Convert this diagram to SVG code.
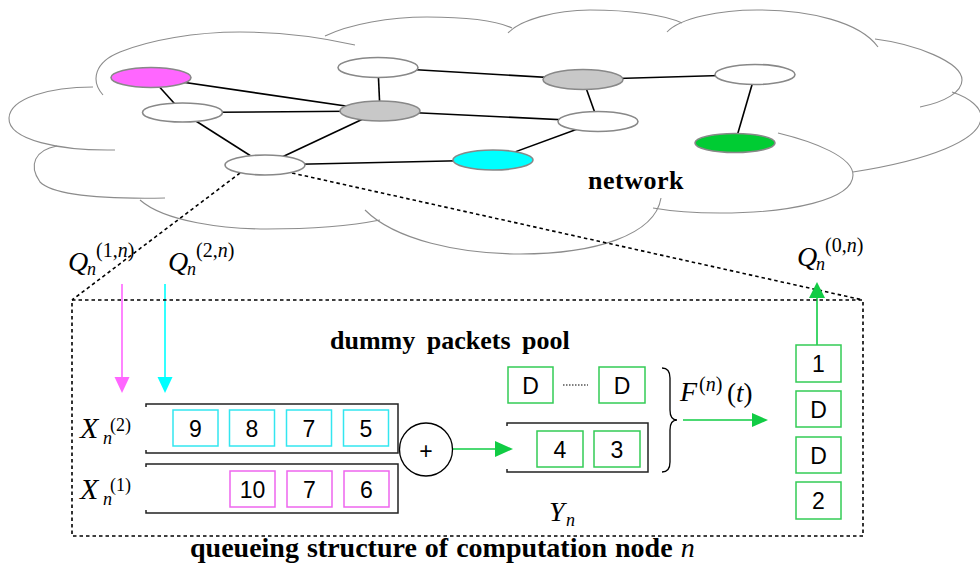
<svg xmlns="http://www.w3.org/2000/svg" width="980" height="575" viewBox="0 0 980 575">
<style>
.cloud{fill:none;stroke:#8c8c8c;stroke-width:1.1}
.nd{stroke:#888;stroke-width:1.6}
.edge{stroke:#000;stroke-width:1.6;fill:none}
.dot{stroke:#000;stroke-width:1.6;fill:none;stroke-dasharray:3.5 3}
.q{fill:none;stroke:#222;stroke-width:1.5}
.bc{fill:#fff;stroke:#33e6f0;stroke-width:1.5}
.bm{fill:#fff;stroke:#ee66ee;stroke-width:1.5}
.bg{fill:#fff;stroke:#33cc55;stroke-width:1.5}
.num{font-family:"Liberation Sans",Arial,sans-serif;font-size:23px;fill:#000;text-anchor:middle}
.bold{font-family:"Liberation Serif","Times New Roman",serif;font-weight:bold;fill:#000}
.mi{font-family:"Liberation Serif","Times New Roman",serif;font-style:italic;fill:#000}
.mr{font-family:"Liberation Serif","Times New Roman",serif;fill:#000}
</style>
<rect width="980" height="575" fill="#fff"/>
<g id="cloud">
<path class="cloud" d="M103,95 C90,80 95,62 120,52 C150,40 195,32 240,32 C280,32 320,37 355,45"/>
<path class="cloud" d="M325,36 C350,24 390,17 427,17 C465,17 495,20 512,28"/>
<path class="cloud" d="M508,33 C520,20 555,10 590,10 C630,10 665,15 682,23"/>
<path class="cloud" d="M667,32 C680,18 720,10 757,10 C810,10 860,22 878,47"/>
<path class="cloud" d="M875,39 C915,44 962,62 962,80 C962,92 945,102 920,107"/>
<path class="cloud" d="M952,92 C970,98 982,108 981,118 C980,140 930,160 853,172"/>
<path class="cloud" d="M778,133 C815,142 853,157 853,175 C853,200 790,213 720,213 C695,213 670,211 653,208"/>
<path class="cloud" d="M661,198 C655,235 595,254 520,254 C460,254 395,240 365,210"/>
<path class="cloud" d="M140,200 C165,222 225,229 267,229 C310,229 350,226 380,220"/>
<path class="cloud" d="M57,146 C35,150 28,165 40,182 C55,197 110,199 165,198"/>
<path class="cloud" d="M115,150 C60,151 8,140 9,118 C10,98 50,87 93,87"/>
</g>
<g id="connectors">
<line class="edge" x1="151" y1="77.5" x2="182.5" y2="112.5"/>
<line class="edge" x1="151" y1="77.5" x2="380" y2="111"/>
<line class="edge" x1="182.5" y1="112.5" x2="380" y2="111"/>
<line class="edge" x1="182.5" y1="112.5" x2="265" y2="165"/>
<line class="edge" x1="380" y1="111" x2="265" y2="165"/>
<line class="edge" x1="265" y1="165" x2="493" y2="160"/>
<line class="edge" x1="378" y1="67.5" x2="380" y2="111"/>
<line class="edge" x1="378" y1="67.5" x2="583" y2="79.5"/>
<line class="edge" x1="380" y1="111" x2="598" y2="121.5"/>
<line class="edge" x1="583" y1="79.5" x2="598" y2="121.5"/>
<line class="edge" x1="583" y1="79.5" x2="755" y2="74.5"/>
<line class="edge" x1="755" y1="74.5" x2="735" y2="143"/>
<line class="edge" x1="598" y1="121.5" x2="493" y2="160"/>
<line class="dot" x1="240" y1="173" x2="72" y2="300"/>
<line class="dot" x1="292" y1="173" x2="863" y2="300"/>
<line x1="122" y1="284" x2="122" y2="379" stroke="#ff66ff" stroke-width="1.6"/>
<polygon points="114.5,377 129.5,377 122,393" fill="#ff66ff"/>
<line x1="165" y1="284" x2="165" y2="379" stroke="#00ffff" stroke-width="1.6"/>
<polygon points="157.5,377 172.5,377 165,393" fill="#00ffff"/>
<line x1="453" y1="449" x2="497" y2="449" stroke="#11cc44" stroke-width="1.6"/>
<polygon points="495,441 513,449 495,457" fill="#11cc44"/>
<line x1="683" y1="420" x2="754" y2="420" stroke="#11cc44" stroke-width="1.6"/>
<polygon points="752,413 768,420 752,427" fill="#11cc44"/>
<line x1="817" y1="345" x2="817" y2="296" stroke="#11cc44" stroke-width="1.6"/>
<polygon points="809,298 825,298 817,282" fill="#11cc44"/>
</g>
<g id="nodes">
<ellipse id="n-magenta" class="nd" cx="151" cy="77.5" rx="40" ry="10" fill="#ff66ff"/>
<ellipse id="n-a" class="nd" cx="182.5" cy="112.5" rx="40" ry="9.5" fill="#fff"/>
<ellipse id="n-top" class="nd" cx="378" cy="67.5" rx="40" ry="10" fill="#fff"/>
<ellipse id="n-grayc" class="nd" cx="380" cy="111" rx="40" ry="10" fill="#c8c8c8"/>
<ellipse id="n-q" class="nd" cx="265" cy="165" rx="40" ry="10" fill="#fff"/>
<ellipse id="n-cyan" class="nd" cx="493" cy="160" rx="40" ry="10" fill="#00ffff"/>
<ellipse id="n-grayr" class="nd" cx="583" cy="79.5" rx="40" ry="10" fill="#c8c8c8"/>
<ellipse id="n-rc" class="nd" cx="598" cy="121.5" rx="40" ry="10" fill="#fff"/>
<ellipse id="n-fr" class="nd" cx="755" cy="74.5" rx="40" ry="10" fill="#fff"/>
<ellipse id="n-green" class="nd" cx="735" cy="143" rx="40" ry="9.5" fill="#00cc33"/>
</g>
<text class="bold" x="588" y="189" font-size="26" letter-spacing="0.5">network</text>
<g id="node-structure">
<rect class="dot" x="72" y="300" width="791" height="236"/>
<text class="bold" x="330" y="349" font-size="26" word-spacing="5">dummy packets pool</text>
<text class="bold" x="190" y="557" font-size="28" word-spacing="1">queueing structure of computation node <tspan font-weight="normal" font-style="italic">n</tspan></text>
</g>
<g id="labels">
<text class="mi" x="68" y="271" font-size="28">Q<tspan x="87" y="275" font-size="18">n</tspan><tspan font-style="normal" x="96" y="257" font-size="20">(1,<tspan font-style="italic">n</tspan>)</tspan></text>
<text class="mi" x="168" y="271" font-size="28">Q<tspan x="187" y="275" font-size="18">n</tspan><tspan font-style="normal" x="196" y="257" font-size="20">(2,<tspan font-style="italic">n</tspan>)</tspan></text>
<text class="mi" x="797" y="266" font-size="28">Q<tspan x="816" y="270" font-size="18">n</tspan><tspan font-style="normal" x="825" y="252" font-size="20">(0,<tspan font-style="italic">n</tspan>)</tspan></text>
<text class="mi" x="80" y="438" font-size="30">X<tspan font-style="normal" x="110" y="431" font-size="18">(2)</tspan><tspan x="103" y="444" font-size="18">n</tspan></text>
<text class="mi" x="80" y="499" font-size="30">X<tspan font-style="normal" x="110" y="491" font-size="18">(1)</tspan><tspan x="103" y="505" font-size="18">n</tspan></text>
<text class="mi" x="549" y="521" font-size="28">Y<tspan x="566" y="526" font-size="18">n</tspan></text>
<text class="mi" x="680" y="401" font-size="28">F<tspan font-style="normal" x="699" y="391" font-size="20">(<tspan font-style="italic">n</tspan>)</tspan><tspan font-style="normal" x="727" y="402" font-size="27">(<tspan font-style="italic">t</tspan>)</tspan></text>
</g>
<g id="queue-x2">
<path class="q" d="M146,407 L146,404 L398,404 L398,453 L146,453 L146,450"/>
<rect class="bc" x="173" y="410" width="45" height="36"/><text class="num" x="195.5" y="436.5">9</text>
<rect class="bc" x="229.5" y="410" width="45" height="36"/><text class="num" x="252" y="436.5">8</text>
<rect class="bc" x="286.5" y="410" width="45" height="36"/><text class="num" x="309" y="436.5">7</text>
<rect class="bc" x="343.5" y="410" width="45" height="36"/><text class="num" x="366" y="436.5">5</text>
</g>
<g id="queue-x1">
<path class="q" d="M146,467 L146,464 L398,464 L398,513 L146,513 L146,510"/>
<rect class="bm" x="230" y="471" width="45" height="36"/><text class="num" x="252.5" y="497.5">10</text>
<rect class="bm" x="287" y="471" width="45" height="36"/><text class="num" x="309.5" y="497.5">7</text>
<rect class="bm" x="344" y="471" width="45" height="36"/><text class="num" x="366.5" y="497.5">6</text>
</g>
<g id="adder">
<circle cx="426" cy="449.5" r="26.5" fill="#fff" stroke="#000" stroke-width="1.3"/>
<text class="num" x="426" y="459" font-size="28">+</text>
</g>
<g id="dummy-pool">
<rect class="bg" x="508" y="367" width="45" height="36"/><text class="num" x="530.5" y="393.5">D</text>
<line x1="563" y1="385" x2="588" y2="385" stroke="#000" stroke-width="1.2" stroke-dasharray="1.5 1.5"/>
<rect class="bg" x="599" y="367" width="46" height="36"/><text class="num" x="622" y="393.5">D</text>
</g>
<g id="queue-y">
<path class="q" d="M507,426 L507,423 L648,423 L648,472 L507,472 L507,469"/>
<rect class="bg" x="537" y="431" width="46" height="36"/><text class="num" x="560" y="457.5">4</text>
<rect class="bg" x="594" y="431" width="46" height="36"/><text class="num" x="617" y="457.5">3</text>
</g>
<path id="brace" d="M662,368 Q670,368 670,378 L670,410 Q670,420 677,420 Q670,420 670,430 L670,462 Q670,472 662,472" fill="none" stroke="#000" stroke-width="1.3"/>
<g id="output">
<rect class="bg" x="796" y="345" width="45" height="37"/><text class="num" x="818.5" y="372">1</text>
<rect class="bg" x="796" y="391" width="45" height="36"/><text class="num" x="818.5" y="417.5">D</text>
<rect class="bg" x="796" y="437" width="45" height="36"/><text class="num" x="818.5" y="463.5">D</text>
<rect class="bg" x="796" y="482" width="45" height="37"/><text class="num" x="818.5" y="509">2</text>
</g>
</svg>
